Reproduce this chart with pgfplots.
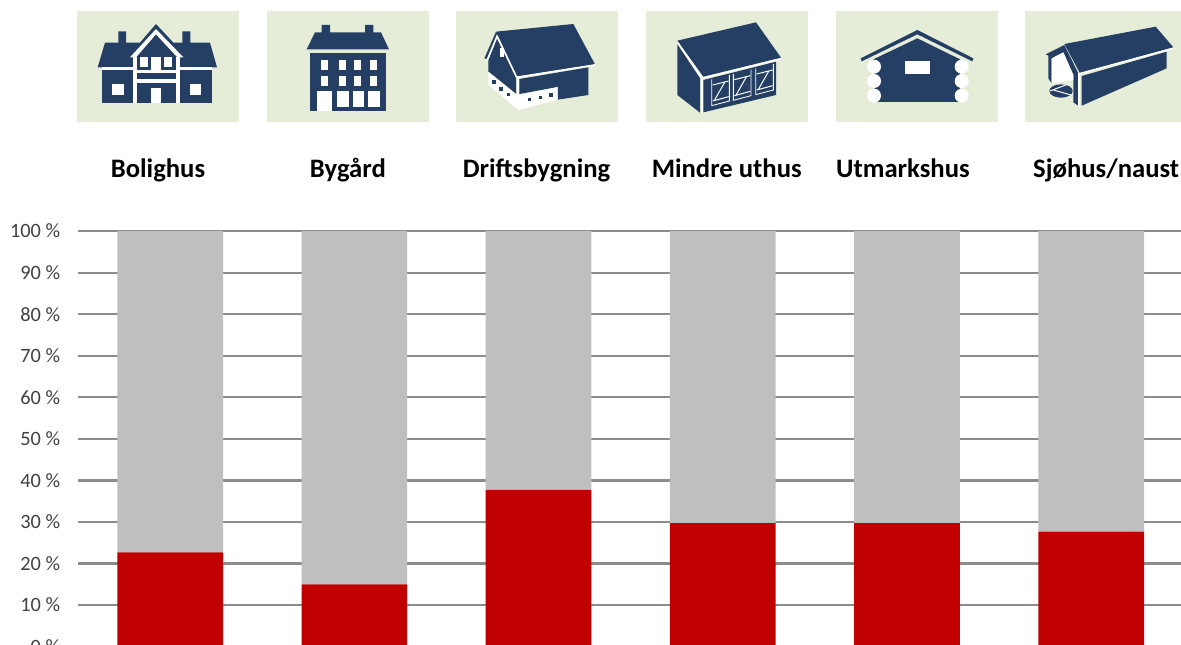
\documentclass[border=0pt]{standalone}
\usepackage{fontspec}
\setmainfont{Carlito}
\usepackage{pgfplots}
\pgfplotsset{compat=1.18}
\definecolor{navy}{HTML}{243F63}
\definecolor{pale}{HTML}{E5ECD8}
\definecolor{redbar}{HTML}{C00000}
\definecolor{greybar}{HTML}{BFBFBF}
\definecolor{gridc}{HTML}{8C8C8C}
\definecolor{tickc}{HTML}{404040}
\newcommand\lab[2]{\makebox[0pt][c]{\hspace*{\dimexpr#1pt*2\relax}#2}}
\pgfplotstableread{
x other red
0 77.3 22.7
1 85.0 15.0
2 62.3 37.7
3 70.3 29.7
4 70.3 29.7
5 72.35 27.65
}\shares
\begin{document}
\begin{tikzpicture}
\path[use as bounding box] (0,0) rectangle (708.6pt,-387pt);
\clip (0,0) rectangle (708.6pt,-387pt);
\begin{scope}[x=0.6pt,y=-0.6pt]
% panels
\foreach \x in {77,267,456,646,836,1025}
  \fill[pale] (\x,11) rectangle ++(162,111);
% Bolighus
\begin{scope}[shift={(90,15)},x=0.2pt,y=-0.2pt]
\fill[navy] (23,157)--(45,83)--(85,83)--(85,49)--(108,49)--(108,83)--(150,83)--(198,27)--(250,83)--(277,83)--(277,49)--(301,49)--(301,83)--(360,83)--(381,157)--cycle;
\fill[white] (35,157) rectangle (365,165);
\fill[white] (130,125) rectangle (270,265);
\fill[navy] (35,165) rectangle (130,265);
\fill[navy] (270,165) rectangle (365,265);
\fill[navy] (141,173) rectangle (259,193);
\fill[navy] (141,203) rectangle (259,265);
\fill[navy] (141,117) rectangle (259,165);
\fill[white] (67,207) rectangle (101,239);
\fill[white] (300,207) rectangle (333,239);
\fill[white] (183,220) rectangle (214,265);
\fill[white] (150,126) rectangle (175,157);
\fill[white] (184,125) rectangle (214,165);
\fill[white] (222,126) rectangle (246,157);
\fill[white] (120,127)--(198,42)--(280,127)--(262,127)--(198,58)--(138,127)--cycle;
\end{scope}
% Bygard
\begin{scope}[shift={(0,0)},x=0.2pt,y=-0.2pt]
\fill[navy] (920,148)--(945,97)--(965,97)--(965,75)--(990,75)--(990,97)--(1095,97)--(1095,75)--(1120,75)--(1120,97)--(1143,97)--(1167,148)--cycle;
\fill[navy] (930,160) rectangle (1158,332);
\foreach \xa in {962,1018,1063,1110}{
  \fill[white] (\xa,181) rectangle ++(21,28);
  \fill[white] (\xa,227) rectangle ++(21,30);}
\fill[white] (952,273) rectangle (995,332);
\fill[white] (1010,273) rectangle (1046,322);
\fill[white] (1058,273) rectangle (1092,322);
\fill[white] (1104,273) rectangle (1140,322);
\end{scope}
% Driftsbygning
\begin{scope}[shift={(480,15)},x=0.2pt,y=-0.2pt]
\fill[navy] (48,50)--(280,27)--(345,148)--(110,185)--cycle;
\fill[navy] (25,135)--(52,68)--(108,185)--(108,237)--(25,170)--cycle;
\fill[navy] (13,130)--(48,50)--(56,62)--(22,132)--cycle;
\draw[white,line width=1pt] (22,134)--(51,64)--(110,187)--(345,150);
\fill[navy] (118,192)--(325,157)--(325,240)--(233,254)--(233,216)--(118,237)--cycle;
\fill[white] (25,170)--(108,237)--(118,240)--(233,216)--(233,254)--(115,285)--(25,210)--cycle;
\draw[white,line width=1.2pt] (113,187)--(113,240);
\fill[white] (60,100) rectangle (72,125);
\fill[navy] (36,195) rectangle ++(11,11);
\fill[navy] (57,216) rectangle ++(11,11);
\fill[navy] (80,233) rectangle ++(10,11);
\fill[navy] (143,249) rectangle ++(11,10);
\fill[navy] (176,242) rectangle ++(11,10);
\fill[navy] (207,235) rectangle ++(11,10);
\end{scope}
% Mindre uthus
\begin{scope}[shift={(670,15)},x=0.2pt,y=-0.2pt]
\fill[navy] (22,77)--(258,22)--(333,128)--(100,185)--cycle;
\fill[navy] (22,87)--(90,190)--(90,293)--(22,240)--cycle;
\fill[navy] (100,195)--(318,140)--(318,240)--(100,292)--cycle;
\draw[white,line width=1pt] (22,82)--(97,190)--(333,132);
\draw[white,line width=1pt] (95,188)--(95,295);
\draw[white,line width=0.5pt]
  (125,193)--(125,272)--(178,258)--(178,180)
  (190,177)--(190,256)--(243,242)--(243,164)
  (257,160)--(257,239)--(310,225)--(310,147);
\draw[white,line width=0.6pt]
  (128,210)--(176,198) (128,258)--(176,245) (132,258)--(165,200)
  (193,194)--(241,182) (193,242)--(241,229) (197,242)--(230,184)
  (260,177)--(308,165) (260,225)--(308,212) (264,225)--(297,167);
\end{scope}
% Utmarkshus
\begin{scope}[shift={(820,0)},x=0.2pt,y=-0.2pt]
\fill[navy] (122,175)--(292,90)--(460,175)--(457,184)--(292,103)--(125,184)--cycle;
\fill[navy] (160,178)--(292,115)--(420,178)--(420,306)--(165,306)--cycle;
\foreach \ya in {200,243,287}{
  \fill[white] (162,\ya) circle[radius=21];
  \fill[white] (425,\ya) circle[radius=21];}
\fill[white] (256,183) rectangle (330,221);
\end{scope}
% Sjohus/naust
\begin{scope}[shift={(1035,15)},x=0.2pt,y=-0.2pt]
\fill[navy] (88,87)--(362,35)--(415,97)--(135,175)--cycle;
\fill[navy] (140,183)--(395,110)--(395,160)--(140,272)--cycle;
\fill[navy] (32,118)--(88,90)--(130,175)--(130,272)--(115,262)--(115,180)--(85,112)--(50,130)--(50,205)--(40,190)--(40,122)--cycle;
\fill[white] (50,130)--(85,112)--(115,180)--(115,195)--(50,205)--cycle;
\fill[navy] (78,228) ellipse[x radius=35,y radius=20];
\draw[white,line width=0.6pt] (45,228)--(105,205) (55,225)--(108,240);
\draw[white,line width=1pt] (130,177)--(415,100);
\draw[white,line width=1pt] (132,175)--(132,275);
\end{scope}
\end{scope}
\begin{axis}[
  at={(46.83pt,-387.96pt)},anchor=south west,
  scale only axis,width=663.12pt,height=249.3pt,
  xmin=-0.5,xmax=5.5,ymin=0,ymax=100,
  ybar stacked,bar width=63.42pt,
  axis line style={draw=none},
  tick style={draw=none},
  ymajorgrids,grid style={draw=gridc,line width=1.35pt},
  ytick={0,10,...,100},
  yticklabels={0 \%,10 \%,20 \%,30 \%,40 \%,50 \%,60 \%,70 \%,80 \%,90 \%,100 \%},
  yticklabel style={font=\fontsize{12.2}{13}\selectfont,text=tickc,anchor=east,xshift=-7.2pt},
  xtick=data,
  xticklabel pos=upper,
  xticklabels={\lab{-7.3}{Bolighus},\lab{-3.9}{Bygård},\lab{-1.2}{Driftsbygning},\lab{2.4}{Mindre uthus},\lab{-2.4}{Utmarkshus},\lab{9}{Sjøhus/naust}},
  xticklabel style={font=\bfseries\fontsize{16}{17}\selectfont,text=black,anchor=base,yshift=32pt},
]
\addplot[fill=redbar,draw=none] table[x=x,y=red]{\shares};
\addplot[fill=greybar,draw=none] table[x=x,y=other]{\shares};
\end{axis}
\end{tikzpicture}
\end{document}
